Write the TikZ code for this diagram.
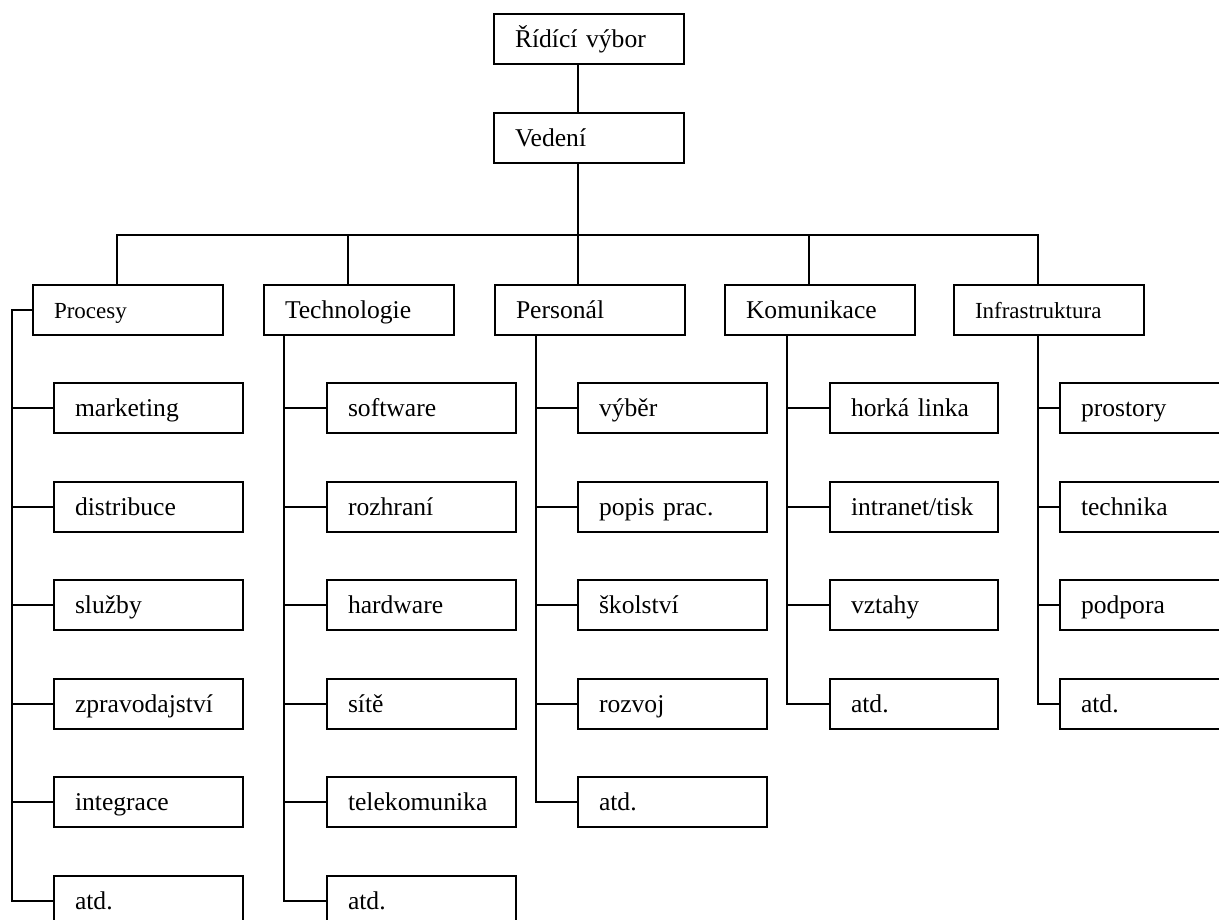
\documentclass[tikz,border=0pt]{standalone}
\usepackage{fontspec}
\setmainfont{Liberation Serif}
\tikzset{
  wire/.style={line width=2pt, line join=miter},
  cell/.style={draw, line width=2pt, rectangle, anchor=north west,
    inner xsep=21pt, inner ysep=0pt, minimum height=50pt,
    text height=19pt, text depth=3pt, align=left,
    font=\fontsize{25.6}{30}\selectfont},
  wide/.style={cell, text width=148pt},
  item/.style={cell, text width=147pt},
  narrow/.style={cell, text width=126pt},
  small/.style={font=\fontsize{23}{27}\selectfont}
}
\begin{document}
\begin{tikzpicture}[x=1pt, y=-1pt]
\useasboundingbox (0,0) rectangle (1219,919);
\clip (0,0) rectangle (1219,919);

% top of the hierarchy
\node[wide] (rv)  at (493,13)  {Řídící výbor};
\node[wide] (ved) at (493,112) {Vedení};

% departments
\node[wide, small] (proc)  at (32,284)  {Procesy};
\node[wide]        (tech)  at (263,284) {Technologie};
\node[wide]        (pers)  at (494,284) {Personál};
\node[wide]        (kom)   at (724,284) {Komunikace};
\node[wide, small] (infra) at (953,284) {Infrastruktura};

% bus drop points
\coordinate (d1) at (117,235);
\coordinate (d2) at (348,235);
\coordinate (d3) at (578,235);
\coordinate (d4) at (809,235);
\coordinate (d5) at (1038,235);

% trunk lines of each department
\coordinate (pt) at (12,0);
\coordinate (tt) at (284,0);
\coordinate (st) at (536,0);
\coordinate (kt) at (787,0);
\coordinate (it) at (1038,0);

\draw[wire] (d3 |- rv.south) -- (d3 |- ved.north);
\draw[wire] (d3 |- ved.south) -- (d3);
\draw[wire] (d1 |- proc.north) -- (d1) -- (d5) -- (d5 |- infra.north);
\draw[wire] (d2) -- (d2 |- tech.north);
\draw[wire] (d3) -- (d3 |- pers.north);
\draw[wire] (d4) -- (d4 |- kom.north);

% Procesy
\foreach \lab/\y [count=\i] in {marketing/382,distribuce/481,služby/579,zpravodajství/678,integrace/776,atd./875}
  \node[item] (p\i) at (53,\y) {\lab};
\draw[wire] (proc.west) -- (pt |- proc.west) -- (pt |- p6.west) -- (p6.west);
\foreach \i in {1,...,5} \draw[wire] (p\i.west) -- (pt |- p\i.west);

% Technologie
\foreach \lab/\y [count=\i] in {software/382,rozhraní/481,hardware/579,sítě/678,telekomunika/776,atd./875}
  \node[item] (t\i) at (326,\y) {\lab};
\draw[wire] (tt |- tech.south) -- (tt |- t6.west) -- (t6.west);
\foreach \i in {1,...,5} \draw[wire] (t\i.west) -- (tt |- t\i.west);

% Personál
\foreach \lab/\y [count=\i] in {výběr/382,popis prac./481,školství/579,rozvoj/678,atd./776}
  \node[item] (s\i) at (577,\y) {\lab};
\draw[wire] (st |- pers.south) -- (st |- s5.west) -- (s5.west);
\foreach \i in {1,...,4} \draw[wire] (s\i.west) -- (st |- s\i.west);

% Komunikace
\foreach \lab/\y [count=\i] in {horká linka/382,{intranet/tisk}/481,vztahy/579,atd./678}
  \node[narrow] (k\i) at (829,\y) {\lab};
\draw[wire] (kt |- kom.south) -- (kt |- k4.west) -- (k4.west);
\foreach \i in {1,...,3} \draw[wire] (k\i.west) -- (kt |- k\i.west);

% Infrastruktura
\foreach \lab/\y [count=\i] in {prostory/382,technika/481,podpora/579,atd./678}
  \node[item] (f\i) at (1059,\y) {\lab};
\draw[wire] (it |- infra.south) -- (it |- f4.west) -- (f4.west);
\foreach \i in {1,...,3} \draw[wire] (f\i.west) -- (it |- f\i.west);
\end{tikzpicture}
\end{document}
